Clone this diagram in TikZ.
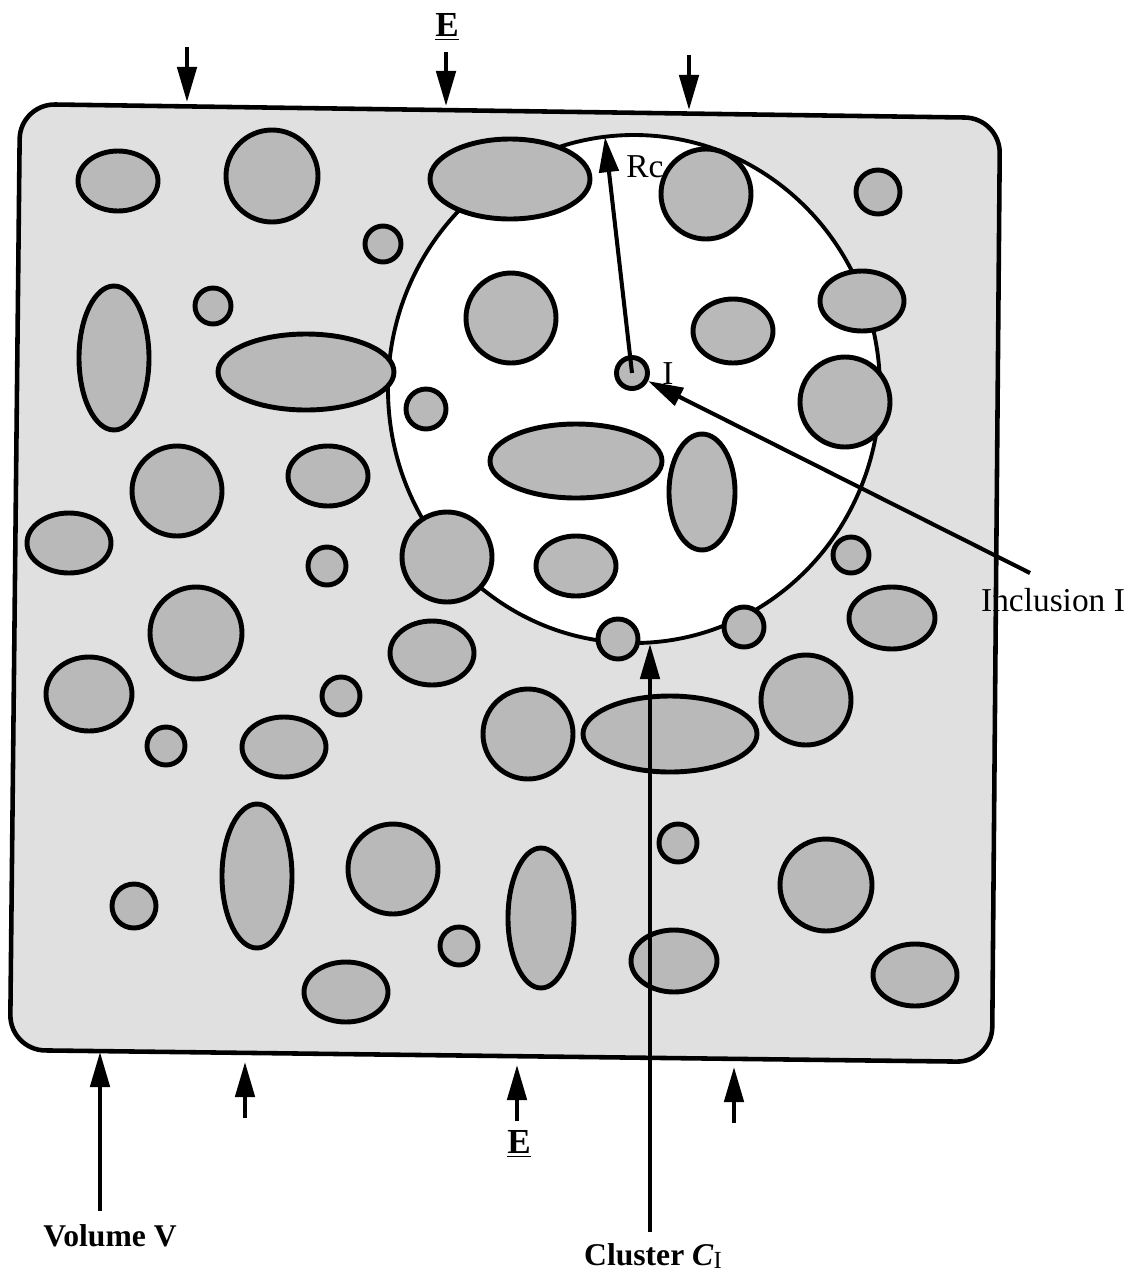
\documentclass[tikz,border=0pt]{standalone}
\usepackage{fontspec}
\setmainfont{Liberation Serif}
\usetikzlibrary{arrows.meta, positioning}

\begin{document}
\begin{tikzpicture}[x=0.02cm, y=-0.02cm,
  matrixbox/.style={draw, line width=2.6pt, rounded corners=20pt, fill=gray!24},
  incl/.style={draw, line width=2.8pt, fill=gray!55},
  clusterzone/.style={draw, line width=2.2pt, fill=white},
  arrow/.style={-{Triangle[length=20pt, width=11pt]}, line width=2.3pt},
  lab/.style={font=\fontsize{19}{21}\selectfont, inner sep=2pt},
  boldlab/.style={font=\fontsize{18}{21}\selectfont\bfseries, inner sep=2pt}
]
\useasboundingbox (0,0) rectangle (1128,1272);

% volume V with the cluster inside
\draw[matrixbox] (20,104) -- (1000,118) -- (992,1062) -- (10,1050) -- cycle;
\draw[clusterzone] (634,389) ellipse [x radius=246, y radius=254];

% inclusions (centre x / centre y / x radius / y radius)
\foreach \cx/\cy/\rx/\ry in {
  118/181/40/30, 272/176/46/46, 510/179/80/40, 383/244/18/18,
  706/194/45/45, 878/192/22/22, 213/306/18/18, 114/358/35/72,
  306/372/88/38, 511/318/45/45, 733/331/40/32, 862/301/42/30,
  845/402/45/45, 426/409/20/20, 576/461/86/37, 702/492/33/58,
  177/491/45/45, 328/476/40/30, 69/543/42/30, 327/566/19/19,
  447/557/45/45, 576/566/40/30, 851/555/18/18, 196/633/46/46,
  618/639/20/20, 744/627/20/20, 892/618/43/31, 432/653/42/32,
  89/694/43/37, 341/696/19/19, 528/734/45/45, 670/734/87/38,
  806/700/45/45, 166/746/19/19, 284/747/42/30, 257/876/35/72,
  393/869/45/45, 678/843/19/19, 826/885/46/46, 134/906/22/22,
  541/918/33/70, 459/946/19/19, 674/961/43/31, 915/975/42/31,
  346/992/42/30}
  \draw[incl] (\cx,\cy) ellipse [x radius=\rx, y radius=\ry];

% the inclusion I
\node[incl, circle, minimum size=0.62cm, inner sep=0pt] (incI) at (632,373) {};

% labels
\node[lab] (rclab) at (645,167) {Rc};
\node[lab] (ilab) at (668,374) {I};
\node[lab] (inclab) at (1053,600) {Inclusion I};
\node[boldlab] (vollab) at (110,1236) {Volume V};
\node[boldlab] (clulab) at (653,1256) {Cluster \textit{C}\raisebox{-0.2ex}{\fontsize{14}{16}\selectfont\mdseries I}};
\node[boldlab, font=\fontsize{20}{22}\selectfont\bfseries] (etop) at (447,27) {\underline{E}};
\node[boldlab, font=\fontsize{20}{22}\selectfont\bfseries] (ebot) at (519,1144) {\underline{E}};

% arrow ends
\coordinate (rctop) at (605,137);
\coordinate (incfoot) at (1030,573);
\coordinate (clufoot) at (650,1232);
\coordinate (clubot) at (650,644);
\coordinate (volfoot) at (100,1211);
\coordinate (volbot) at (100,1052);
\coordinate (ta1) at (187,47);  \coordinate (tb1) at (187,102);
\coordinate (ta2) at (446,52);  \coordinate (tb2) at (446,106);
\coordinate (ta3) at (689,55);  \coordinate (tb3) at (689,110);
\coordinate (ba1) at (245,1118); \coordinate (bb1) at (245,1062);
\coordinate (ba2) at (517,1121); \coordinate (bb2) at (517,1065);
\coordinate (ba3) at (734,1123); \coordinate (bb3) at (734,1067);

% connectors
\draw[arrow] (incI.center) -- (rctop);
\draw[arrow] (incfoot) -- (incI);
\draw[arrow] (clufoot) -- (clubot);
\draw[arrow] (volfoot) -- (volbot);
\draw[arrow] (ta1) -- (tb1);
\draw[arrow] (ta2) -- (tb2);
\draw[arrow] (ta3) -- (tb3);
\draw[arrow] (ba1) -- (bb1);
\draw[arrow] (ba2) -- (bb2);
\draw[arrow] (ba3) -- (bb3);
\end{tikzpicture}
\end{document}
